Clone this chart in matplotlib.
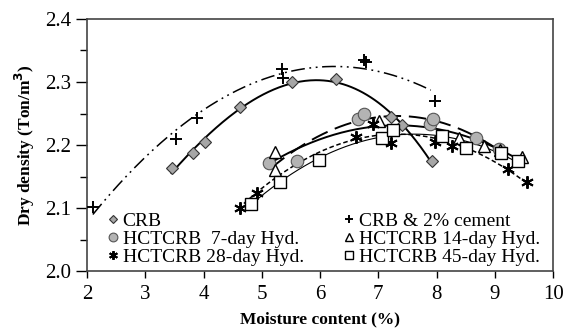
import numpy as np
import matplotlib
matplotlib.use("Agg")
import matplotlib.pyplot as plt
from matplotlib.ticker import MultipleLocator

plt.rcParams['font.family'] = ['Liberation Serif', 'DejaVu Serif']

# Data
crb_x = [3.46, 3.82, 4.02, 4.63, 5.52, 6.27, 7.21, 7.40, 7.92]
crb_y = [2.163, 2.187, 2.205, 2.261, 2.300, 2.304, 2.244, 2.232, 2.175]

cem_x = [2.11, 3.52, 3.89, 5.34, 5.36, 6.76, 6.78, 7.97]
cem_y = [2.101, 2.209, 2.243, 2.320, 2.307, 2.335, 2.331, 2.270]

d7_x = [5.13, 5.60, 6.65, 6.75, 7.89, 7.94, 8.68, 9.07]
d7_y = [2.172, 2.174, 2.242, 2.250, 2.234, 2.241, 2.211, 2.194]

d14_x = [5.22, 5.22, 7.01, 8.39, 8.81, 9.08, 9.46]
d14_y = [2.189, 2.160, 2.238, 2.211, 2.198, 2.192, 2.181]

d28_x = [4.62, 4.92, 6.61, 6.91, 7.21, 7.97, 8.27, 9.23, 9.55]
d28_y = [2.0995, 2.124, 2.213, 2.233, 2.203, 2.205, 2.199, 2.162, 2.142]

d45_x = [4.82, 5.32, 5.98, 7.07, 7.26, 8.10, 8.51, 9.10, 9.40]
d45_y = [2.106, 2.142, 2.177, 2.211, 2.224, 2.215, 2.196, 2.188, 2.174]

labels = ["CRB", "HCTCRB  7-day Hyd.", "HCTCRB 28-day Hyd.",
          "CRB & 2% cement", "HCTCRB 14-day Hyd.", "HCTCRB 45-day Hyd."]

fig = plt.figure(figsize=(5.65, 3.33), dpi=100)
ax = fig.add_axes([0.154, 0.186, 0.825, 0.757])

def fit(x, y, deg, ls, lw, x0=None, x1=None):
    c = np.polyfit(x, y, deg)
    xs = np.linspace(x0 if x0 is not None else min(x), x1 if x1 is not None else max(x), 200)
    ax.plot(xs, np.polyval(c, xs), color='black', linestyle=ls, linewidth=lw, zorder=2)

fit(crb_x, crb_y, 3, '-', 1.4, 3.45, 7.93)
fit(cem_x, cem_y, 2, (0, (9, 3, 1.2, 3, 1.2, 3)), 1.1, 2.1, 7.9)
fit(d7_x, d7_y, 2, (0, (9, 4)), 1.4, 5.15, 9.1)
fit(d14_x, d14_y, 2, '-', 1.4, 5.2, 9.5)
fit(d28_x, d28_y, 2, (0, (3, 1.8)), 1.1, 4.6, 9.56)
fit(d45_x, d45_y, 2, '-', 0.8, 4.8, 9.4)

edge = '#333333'
h1, = ax.plot(crb_x, crb_y, 'D', ms=6, mfc='#a6a6a6', mec=edge, mew=0.8, ls='none', zorder=3)
h4, = ax.plot(cem_x, cem_y, '+', ms=9, mec='black', mew=1.4, ls='none', zorder=3)
h2, = ax.plot(d7_x, d7_y, 'o', ms=9, mfc='#b3b3b3', mec='#555555', mew=0.8, ls='none', zorder=3)
h5, = ax.plot(d14_x, d14_y, '^', ms=8, mfc='white', mec='black', mew=1.0, ls='none', zorder=3)
h3, = ax.plot(d28_x, d28_y, marker=(6, 2, 0), ms=9, mec='black', mew=1.4, ls='none', zorder=3)
h6, = ax.plot(d45_x, d45_y, 's', ms=8, mfc='white', mec='black', mew=1.0, ls='none', zorder=3)

leg = ax.legend([h1, h2, h3, h4, h5, h6], labels, ncol=2, loc='lower left',
                bbox_to_anchor=(0.02, -0.025), frameon=False, fontsize=14,
                handlelength=0.5, handletextpad=0.25, columnspacing=2.1,
                labelspacing=0.02, borderaxespad=0.2, markerscale=0.7)

ax.set_xlim(2, 10)
ax.set_ylim(2.0, 2.4)
ax.xaxis.set_major_locator(MultipleLocator(1))
ax.yaxis.set_major_locator(MultipleLocator(0.1))
ax.yaxis.set_minor_locator(MultipleLocator(0.05))
ax.yaxis.set_major_formatter(matplotlib.ticker.FormatStrFormatter('%.1f'))
ax.tick_params(axis='both', which='major', direction='out', width=1.0,
               labelsize=15, colors='black')
ax.tick_params(axis='y', which='major', length=8)
ax.tick_params(axis='y', which='minor', direction='out', length=5, width=1.0)
ax.tick_params(axis='x', which='major', length=5, pad=5)
for s in ax.spines.values():
    s.set_linewidth(1.2)
    s.set_color('#444444')

ax.set_xlabel('Moisture content (%)', fontsize=12.5, fontweight='bold', labelpad=5)
ax.set_ylabel('Dry density (Ton/m$^\\mathbf{3}$)', fontsize=12.5, fontweight='bold', labelpad=6)

fig.savefig('out.png', dpi=100)
